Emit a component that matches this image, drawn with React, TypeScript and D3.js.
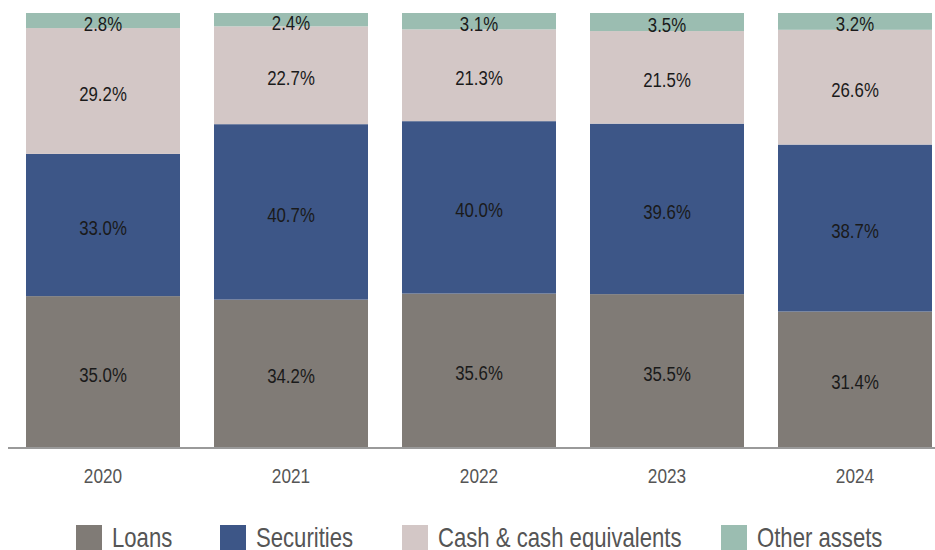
import React from "react";
import * as d3 from "d3";

const years = ["2020", "2021", "2022", "2023", "2024"];
const seriesNames = ["Loans", "Securities", "Cash & cash equivalents", "Other assets"];
const loans = [35.0, 34.2, 35.6, 35.5, 31.4];
const securities = [33.0, 40.7, 40.0, 39.6, 38.7];
const cash = [29.2, 22.7, 21.3, 21.5, 26.6];
const other = [2.8, 2.4, 3.1, 3.5, 3.2];
const colors = ["#807b76", "#3d5687", "#d3c7c6", "#9bbdb1"];

const W = 935;
const H = 550;
const SX = 0.82;
const FONT = "'Liberation Sans', Arial, sans-serif";
const legendX = [76, 220, 402, 721];

export default function App() {
  const series = [loans, securities, cash, other];
  const rows = years.map((y, i) => {
    const row: any = { year: y };
    seriesNames.forEach((s, k) => (row[s] = series[k][i]));
    return row;
  });
  const stack = d3
    .stack<any>()
    .keys(seriesNames)
    .offset(d3.stackOffsetExpand);
  const stacked = stack(rows);

  const x = d3
    .scaleBand<string>()
    .domain(years)
    .range([8, 950])
    .paddingInner(34 / 188)
    .paddingOuter(18 / 188);
  const y = d3.scaleLinear().domain([0, 1]).range([447, 16]);
  const topExtra = 3;
  const last = seriesNames.length - 1;

  const txt = (
    key: string,
    tx: number,
    ty: number,
    label: string,
    size: number,
    fill: string,
    anchor: string
  ) => (
    <text
      key={key}
      transform={`translate(${tx},${ty}) scale(${SX},1)`}
      fontFamily={FONT}
      fontSize={size}
      fill={fill}
      textAnchor={anchor as any}
    >
      {label}
    </text>
  );

  return (
    <svg
      width={W}
      height={H}
      style={{ position: "absolute", left: 0, top: 0, background: "#fff" }}
    >
      {stacked.map((layer, k) => (
        <g key={layer.key}>
          {layer.map((d, i) => {
            const top = y(d[1]) - (k === last ? topExtra : 0);
            return (
              <rect
                key={i}
                x={x(years[i])}
                width={x.bandwidth()}
                y={top}
                height={y(d[0]) - top}
                fill={colors[k]}
              />
            );
          })}
        </g>
      ))}
      {stacked.map((layer, k) =>
        layer.map((d, i) => {
          const cx = (x(years[i]) as number) + x.bandwidth() / 2;
          const top = y(d[1]) - (k === last ? topExtra : 0);
          const cy = (y(d[0]) + top) / 2;
          return txt(
            `l${k}-${i}`,
            cx,
            cy + 10,
            series[k][i].toFixed(1) + "%",
            20.5,
            "#1a1a1a",
            "middle"
          );
        })
      )}
      <line x1={8} x2={W} y1={448} y2={448} stroke="#9a9a9a" strokeWidth={2} />
      {years.map((yr) =>
        txt(
          "t" + yr,
          (x(yr) as number) + x.bandwidth() / 2,
          483,
          yr,
          21,
          "#555",
          "middle"
        )
      )}
      {seriesNames.map((s, k) => (
        <g key={"lg" + s}>
          <rect x={legendX[k]} y={525} width={26} height={26} fill={colors[k]} />
          {txt("lt" + s, legendX[k] + 36, 547, s, 27, "#555", "start")}
        </g>
      ))}
    </svg>
  );
}
